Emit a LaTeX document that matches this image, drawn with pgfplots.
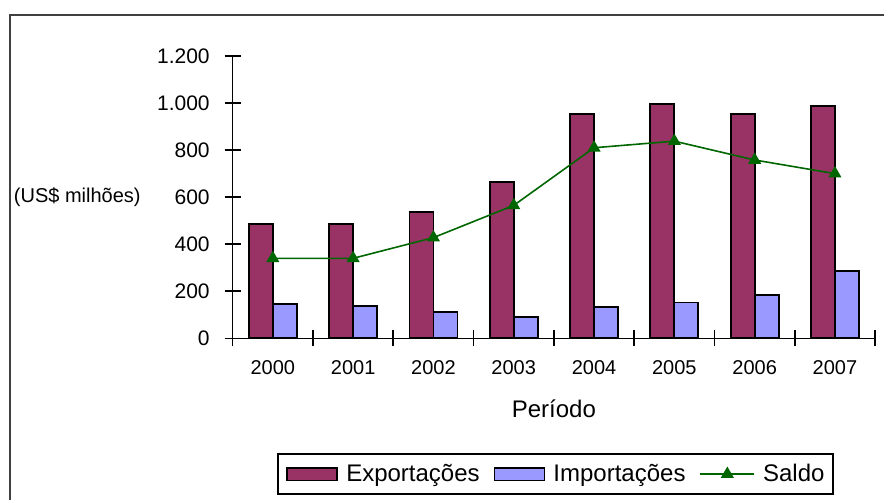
\documentclass[border=0pt]{standalone}
\usepackage{pgfplots}
\pgfplotsset{compat=1.18}
\usepackage{fontspec}
\setmainfont{Liberation Sans}
\definecolor{expc}{HTML}{993366}
\definecolor{impc}{HTML}{9999FF}
\definecolor{saldoc}{HTML}{006600}
\begin{document}
\begin{tikzpicture}[x=1pt,y=1pt]
% pixel (px,py) -> ((px-232.7)*0.5pt, (338.3-py)*0.5pt)
\useasboundingbox (-116.35,-80.35) rectangle (325.65,169.15);
\draw[line width=1.2pt, black!75] (-111.35,-82) -- (-111.35,161.65) -- (328,161.65);
\begin{axis}[
  at={(0,0)}, anchor=south west,
  scale only axis, width=321.2pt, height=141.15pt,
  xmin=-0.5, xmax=7.5, ymin=0, ymax=1200,
  clip=false,
  axis x line=bottom, axis y line=left,
  axis line style={-, line width=0.8pt, black},
  xtick={-0.5,0.5,...,7.5}, xticklabels={},
  extra x ticks={0,1,2,3,4,5,6,7},
  extra x tick labels={2000,2001,2002,2003,2004,2005,2006,2007},
  extra x tick style={major tick length=0pt, tick label style={yshift=-7.5pt}},
  ytick={0,200,...,1200},
  tick align=center, major tick length=8pt,
  tick style={black, line width=0.8pt},
  xticklabel style={font=\fontsize{10}{12}\selectfont},
  yticklabel style={font=\fontsize{10.5}{12}\selectfont, xshift=-4pt},
  /pgf/number format/1000 sep={.},
  /pgf/number format/assume math mode=true,
  xlabel={Período},
  xlabel style={font=\fontsize{12}{14}\selectfont, at={(axis description cs:0.5,0)}, anchor=center, yshift=-35pt},
  ylabel={(US\$ milhões)},
  ylabel style={font=\fontsize{10}{12}\selectfont, rotate=-90, at={(axis description cs:0,0.5)}, anchor=east, xshift=-42.5pt},
  legend style={at={(axis description cs:0.5,0)}, anchor=north, xshift=0.8pt, yshift=-57.3pt,
    legend columns=3, draw=black, line width=1pt, font=\fontsize{12}{14}\selectfont,
    inner xsep=4pt, inner ysep=5pt,
    nodes={inner sep=0pt},
    /tikz/every odd column/.append style={column sep=4pt},
    /tikz/every even column/.append style={column sep=7pt}},
]
\addplot[ybar, bar width=12pt, bar shift=-6pt, fill=expc, draw=black, line width=0.9pt,
  legend image code/.code={\draw[fill=expc, draw=black, line width=0.9pt] (0pt,-3.2pt) rectangle (25pt,3.2pt);}]
  coordinates {(0,485) (1,485) (2,536) (3,664) (4,953) (5,996) (6,953) (7,988)};
\addlegendentry{Exportações}
\addplot[ybar, bar width=12pt, bar shift=6pt, fill=impc, draw=black, line width=0.9pt,
  legend image code/.code={\draw[fill=impc, draw=black, line width=0.9pt] (0pt,-3.2pt) rectangle (25pt,3.2pt);}]
  coordinates {(0,146) (1,137) (2,111) (3,92) (4,134) (5,152) (6,185) (7,285)};
\addlegendentry{Importações}
\addplot[sharp plot, color=saldoc, line width=0.8pt, mark=triangle*, mark size=3pt,
  mark options={fill=saldoc, draw=saldoc},
  legend image code/.code={\draw[color=saldoc, line width=0.8pt] (0pt,0pt) -- (27pt,0pt);
     \fill[saldoc] (13.5pt,0pt) ++(90:3pt) -- ++(-120:5.2pt) -- ++(0:5.2pt) -- cycle;}]
  coordinates {(0,340) (1,340) (2,428) (3,565) (4,810) (5,838) (6,758) (7,700)};
\addlegendentry{Saldo}
\end{axis}
\end{tikzpicture}
\end{document}
